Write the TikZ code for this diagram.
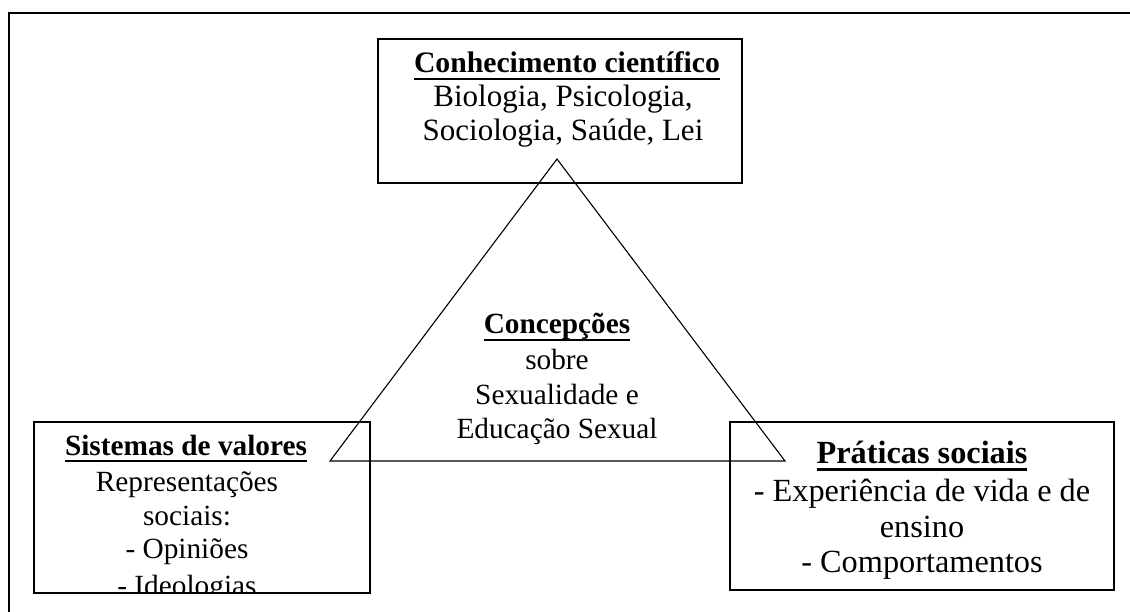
\documentclass[tikz,border=0pt]{standalone}
\usepackage{fontspec}
\setmainfont{Liberation Serif}
\newcommand\myul[1]{\setbox0\hbox{#1}\rlap{\rule[-0.25em]{\wd0}{0.08em}}\box0}
\newcommand\fsTitleTop{\fontsize{29.7}{34}\selectfont}
\newcommand\fsBodyTop{\fontsize{31}{35}\selectfont}
\newcommand\fsMid{\fontsize{29.3}{34}\selectfont}
\newcommand\fsRight{\fontsize{32.3}{37}\selectfont}
\begin{document}
\begin{tikzpicture}[x=1pt,y=-1pt,
  boxst/.style={draw,line width=1.5pt,inner sep=0pt,outer sep=0pt},
  ln/.style={anchor=base,inner sep=0pt,outer sep=0pt},
  frame/.style={draw,line width=1.5pt},
  tri/.style={draw,line width=1.1pt,line join=miter}]
\useasboundingbox (0,0) rectangle (1130,612);
% outer frame (cropped at right and bottom)
\coordinate (fbl) at (9,640);
\coordinate (ftl) at (9,13);
\coordinate (ftr) at (1160,13);
\draw[frame] (fbl) -- (ftl) -- (ftr);
% boxes
\node[boxst,minimum width=364pt,minimum height=144pt] (topbox) at (560,111) {};
\node[boxst,minimum width=336pt,minimum height=171pt] (leftbox) at (202,507.5) {};
\node[boxst,minimum width=384pt,minimum height=168pt] (rightbox) at (922,506) {};
% triangle
\coordinate (apex) at (557,159);
\coordinate (tl) at (330,461);
\coordinate (tr) at (785,461);
\draw[tri] (apex) -- (tl) -- (tr) -- cycle;
% top box text
\node[ln,font=\fsTitleTop] (t1) at (567,73) {\textbf{\myul{Conhecimento científico}}};
\node[ln,font=\fsBodyTop] (t2) at (563,107) {Biologia, Psicologia,};
\node[ln,font=\fsBodyTop] (t3) at (563,141) {Sociologia, Saúde, Lei};
% centre text
\node[ln,font=\fsMid] (c1) at (557,334) {\textbf{\myul{Concepções}}};
\node[ln,font=\fsMid] (c2) at (557,370) {sobre};
\node[ln,font=\fsMid] (c3) at (557,404) {Sexualidade e};
\node[ln,font=\fsMid] (c4) at (557,438) {Educação Sexual};
% left box text (clipped by the box)
\begin{scope}
\clip (leftbox.north west) rectangle (leftbox.south east);
\node[ln,font=\fsMid] (l1) at (186,455) {\textbf{\myul{Sistemas de valores}}};
\node[ln,font=\fsMid] (l2) at (187,491) {Representações};
\node[ln,font=\fsMid] (l3) at (187,525) {sociais:};
\node[ln,font=\fsMid] (l4) at (187,558) {- Opiniões};
\node[ln,font=\fsMid] (l5) at (187,595) {- Ideologias};
\end{scope}
\draw[line width=1.5pt] (leftbox.north west) rectangle (leftbox.south east);
% right box text
\node[ln,font=\fsRight] (r1) at (922,463) {\textbf{\myul{Práticas sociais}}};
\node[ln,font=\fsRight] (r2) at (922,501) {- Experiência de vida e de};
\node[ln,font=\fsRight] (r3) at (922,537) {ensino};
\node[ln,font=\fsRight] (r4) at (922,572) {- Comportamentos};
\end{tikzpicture}
\end{document}
